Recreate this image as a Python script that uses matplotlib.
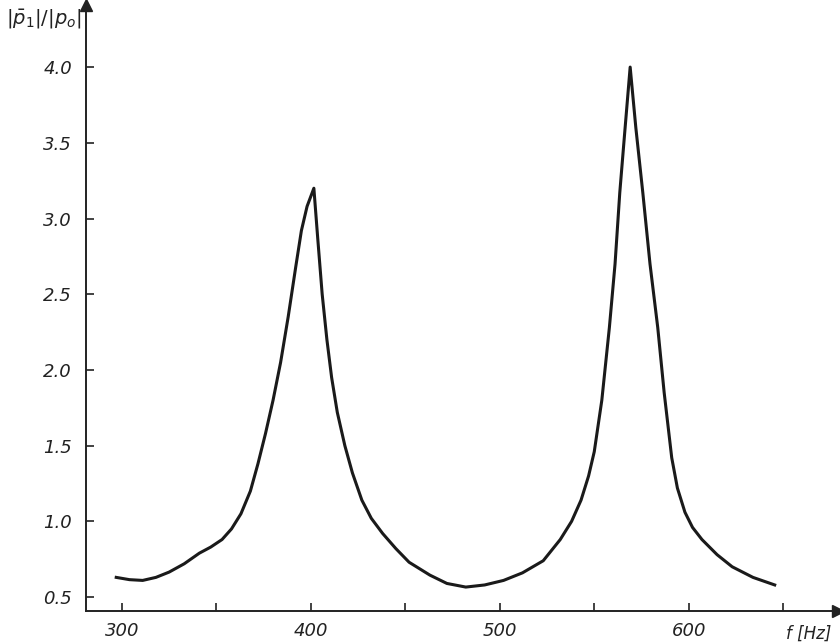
import matplotlib.pyplot as plt

# frequency [Hz] and |p1|/|p0|
freq = [297, 304, 311, 318, 325, 333, 341, 347, 353, 358, 363, 368, 372, 376,
        380, 384, 388, 392, 395, 398, 401.6, 403.7, 406, 408.5, 411, 414, 418,
        422, 427, 432, 438, 445, 452, 463, 472, 482, 492, 502, 512, 523, 532,
        538, 543, 547, 550, 554, 558, 561, 563.5, 566, 569, 572, 575.7, 579.5,
        583.6, 587, 591, 594, 598, 602, 607, 615, 623, 634, 645.5]
ratio = [0.63, 0.615, 0.61, 0.63, 0.665, 0.72, 0.79, 0.83, 0.88, 0.95, 1.05,
         1.2, 1.38, 1.58, 1.8, 2.05, 2.35, 2.68, 2.92, 3.08, 3.2, 2.86, 2.5,
         2.2, 1.95, 1.72, 1.5, 1.32, 1.14, 1.02, 0.92, 0.82, 0.73, 0.645, 0.59,
         0.566, 0.58, 0.61, 0.66, 0.74, 0.88, 1.0, 1.14, 1.3, 1.46, 1.8, 2.28,
         2.7, 3.17, 3.55, 4.0, 3.6, 3.17, 2.7, 2.28, 1.85, 1.42, 1.22, 1.06,
         0.96, 0.88, 0.78, 0.70, 0.63, 0.58]

xticks = [300, 350, 400, 450, 500, 550, 600, 650]
xlabels = ["300", "", "400", "", "500", "", "600", ""]
yticks = [0.5, 1.0, 1.5, 2.0, 2.5, 3.0, 3.5, 4.0]
ylabels = ["0.5", "1.0", "1.5", "2.0", "2.5", "3.0", "3.5", "4.0"]

fig = plt.figure(figsize=(8.4, 6.43), dpi=100)
ax = fig.add_axes([86 / 840, 32 / 643, 752 / 840, 606 / 643])

ax.plot(freq, ratio, color="#1a1a1a", lw=2.2, solid_joinstyle="round")

ax.set_xlim(281, 679)
ax.set_ylim(0.408, 4.41)

for s in ["top", "right"]:
    ax.spines[s].set_visible(False)
for s in ["left", "bottom"]:
    ax.spines[s].set_linewidth(1.4)
    ax.spines[s].set_color("#222222")

# arrow heads on the axes
ax.plot(1, 0, ">", color="#222222", ms=9, transform=ax.transAxes, clip_on=False)
ax.plot(0, 1, "^", color="#222222", ms=9, transform=ax.transAxes, clip_on=False)

ax.set_xticks(xticks)
ax.set_xticklabels(xlabels)
ax.set_yticks(yticks)
ax.set_yticklabels(ylabels)
ax.tick_params(direction="in", length=6, width=1.2, color="#222222",
               labelsize=13, labelcolor="#222222")
ax.tick_params(axis="y", pad=10)
ax.tick_params(axis="x", pad=8)
for lab in ax.get_xticklabels() + ax.get_yticklabels():
    lab.set_fontstyle("italic")

fig.text(6 / 840, 1 - 18 / 643, r"$|\bar{p}_1|/|p_o|$", fontsize=14,
         va="center", ha="left", color="#222222")
fig.text(786 / 840, 1 - 634 / 643, "f [Hz]", fontsize=12, style="italic",
         va="center", ha="left", color="#222222")

fig.savefig("out.png", dpi=100)
